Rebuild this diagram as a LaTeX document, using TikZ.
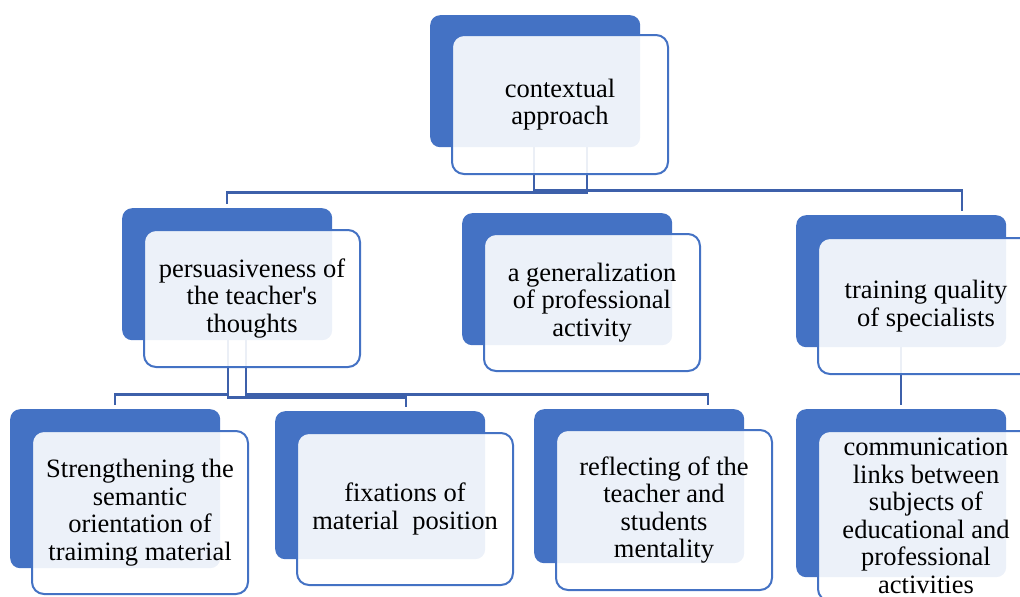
\documentclass[tikz,border=0pt]{standalone}
\usepackage{fontspec}
\setmainfont{Liberation Serif}
\usepackage{tikz}
\usetikzlibrary{backgrounds}
\definecolor{sablue}{RGB}{68,114,196}
\definecolor{linkblue}{RGB}{61,96,170}
\newcommand{\boxfont}{\fontsize{26.5}{27.5}\selectfont}
\tikzstyle{Back}=[rectangle, rounded corners=10pt, fill=sablue, inner sep=0, minimum width=210pt, anchor=north west]
\tikzstyle{Front}=[rectangle, rounded corners=12pt, draw=sablue, line width=2pt, fill=white, fill opacity=0.9, text opacity=1, minimum width=216pt, inner sep=0, align=center, font=\boxfont, anchor=north west]
\tikzstyle{Link}=[draw=linkblue, line width=2.2pt, shorten >=4pt]

\begin{document}
\begin{tikzpicture}[x=1pt, y=-1pt]
    \useasboundingbox (0,0) rectangle (1020,597);
    \path
    (430,15) node[Back, minimum height=132pt] (ctxB) {}
    (451,34) node[Front, minimum height=139pt] (ctx) {contextual\\approach}
    (122,208) node[Back, minimum height=132pt] (persB) {}
    (143,229) node[Front, minimum height=137pt] (pers) {persuasiveness of\\the teacher\textquotesingle s\\thoughts}
    (462,213) node[Back, minimum height=132pt] (genB) {}
    (483,233) node[Front, minimum height=137pt] (gen) {a generalization\\of professional\\activity}
    (796,215) node[Back, minimum height=132pt] (trainB) {}
    (817,237) node[Front, minimum height=136pt] (train) {training quality\\of specialists}
    (10,409) node[Back, minimum height=159pt] (strB) {}
    (31,430) node[Front, minimum height=163pt] (str) {Strengthening the\\semantic\\orientation of\\traiming material}
    (275,411) node[Back, minimum height=148pt] (fixB) {}
    (296,432) node[Front, minimum height=152pt] (fix) {fixations of\\material~ position}
    (534,409) node[Back, minimum height=154pt] (reflB) {}
    (555,429) node[Front, minimum height=160pt] (refl) {reflecting of the\\teacher and\\students\\mentality}
    (796,409) node[Back, minimum height=168pt] (commB) {}
    (817,430) node[Front, minimum height=170pt] (comm) {communication\\links between\\subjects of\\educational and\\professional\\activities};

    \begin{scope}[on background layer]
    \draw[Link] ([xshift=52pt]ctxB.south) -- ++(0,45) -| (persB.north);
    \draw[Link] ([xshift=-1pt]ctxB.south) -- ++(0,43) -| ([xshift=61pt]trainB.north);
    \draw[Link] ([xshift=1pt]persB.south) -- ++(0,54) -| (strB.north);
    \draw[Link] ([xshift=1pt]persB.south) -- ++(0,57) -| ([xshift=26pt]fixB.north);
    \draw[Link] ([xshift=19pt]persB.south) -- ++(0,54) -| ([xshift=69pt]reflB.north);
    \draw[Link] (trainB.south) -- (commB.north);
    \end{scope}
\end{tikzpicture}
\end{document}
